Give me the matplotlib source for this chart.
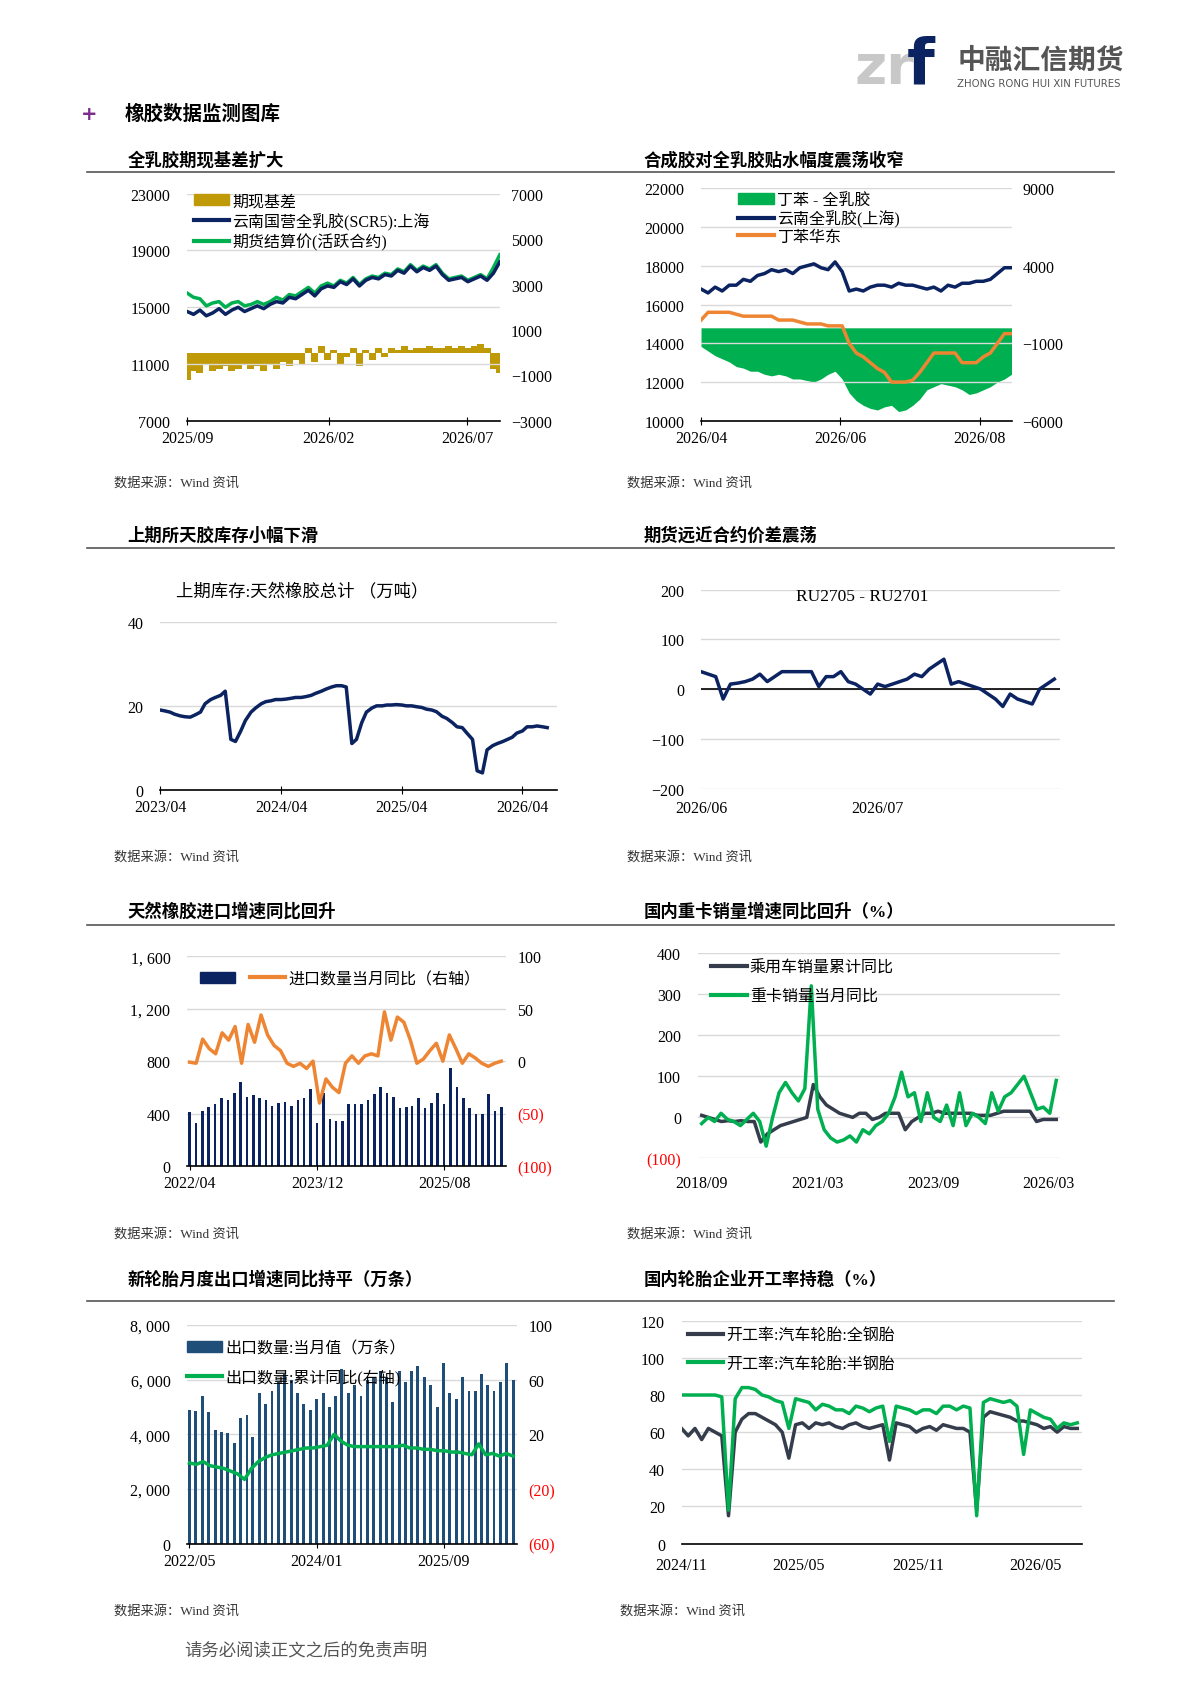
import numpy as np
import pandas as pd
import matplotlib.pyplot as plt
import matplotlib.dates as mdates
from matplotlib.patches import Patch
from matplotlib.lines import Line2D
from matplotlib.ticker import FuncFormatter

plt.rcParams['font.family'] = ['Liberation Serif', 'Noto Sans CJK SC', 'DejaVu Sans']
plt.rcParams['font.size'] = 11

NAVY = '#0b2360'
GREEN = '#00b050'
ORANGE = '#ee8533'
GOLD = '#c09a06'
DARK = '#353c4c'
GRID = '#d9d9d9'

# ---- chart 1: 全乳胶期现基差
c1_scr5 = [14700, 14500, 14800, 14400, 14600, 14900, 14500, 14800, 15000, 14700, 14900, 15100, 14900, 15200, 15400,
           15300, 15700, 15600, 15900, 16200, 15800, 16300, 16500, 16400, 16800, 16600, 17000, 16500, 16900, 17100,
           17000, 17300, 17200, 17600, 17400, 17900, 17500, 17800, 17600, 17900, 17300, 16900, 17000, 17100, 16800,
           17000, 17200, 16900, 17400, 18200]
c1_fut = [16000, 15700, 15600, 15100, 15300, 15400, 15000, 15300, 15400, 15100, 15200, 15400, 15200, 15400, 15700,
          15500, 15900, 15800, 16100, 16400, 16000, 16500, 16700, 16500, 16900, 16700, 17100, 16600, 17000, 17200,
          17100, 17400, 17300, 17700, 17500, 18000, 17600, 17900, 17700, 18000, 17400, 17000, 17100, 17200, 16900,
          17100, 17300, 17000, 17800, 18700]
c1_basis = [-1200, -800, -900, -500, -800, -700, -600, -800, -700, -500, -700, -600, -800, -500, -700,
            -400, -600, -300, -500, 200, -400, 300, -300, 100, -500, -200, 200, -600, 100, -300,
            200, -200, 200, 100, 300, 100, 200, 200, 300, 200, 200, 300, 200, 300, 200,
            300, 400, 200, -700, -900]

# ---- chart 2: 合成胶对全乳胶
c2_scr = [16800, 16600, 16900, 16700, 17000, 17000, 17300, 17200, 17500, 17600, 17800, 17700, 17800, 17600, 17900,
          18000, 18100, 17900, 17800, 18200, 17700, 16700, 16800, 16700, 16900, 17000, 17000, 16900, 17100, 17000,
          17000, 16900, 16800, 16900, 16700, 17000, 16900, 17100, 17100, 17200, 17200, 17300, 17600, 17900, 17900]
c2_sbr = [15200, 15600, 15600, 15600, 15600, 15500, 15400, 15400, 15400, 15400, 15400, 15200, 15200, 15200, 15100,
          15000, 15000, 15000, 14900, 14900, 14900, 14000, 13500, 13300, 13000, 12700, 12500, 12000, 12000, 12000,
          12100, 12500, 13000, 13500, 13500, 13500, 13500, 13000, 13000, 13000, 13300, 13500, 14000, 14500, 14500]
c2_spread = [-1200, -1500, -1800, -2000, -2200, -2500, -2600, -2800, -2800, -3000, -3100, -3000, -3100, -3300, -3300,
             -3400, -3500, -3300, -3000, -2800, -3300, -4200, -4700, -5000, -5200, -5300, -5100, -5000, -5400, -5300,
             -5000, -4600, -4000, -3800, -3600, -3700, -3800, -4000, -4300, -4200, -4000, -3800, -3500, -3300, -3000]

# ---- chart 3: 上期库存 (semi-monthly)
c3_stock = [19, 18.8, 18.5, 18, 17.6, 17.4, 17.3, 17.8, 18.5, 20.5, 21.5, 22, 22.5, 23.5, 12, 11.5, 14, 16.5,
            18.5, 19.5, 20.5, 21, 21.2, 21.5, 21.5, 21.6, 21.8, 22, 22, 22.2, 22.5, 23, 23.5, 24, 24.5, 24.8,
            24.8, 24.5, 11, 12, 16, 18.5, 19.5, 20, 20, 20.2, 20.2, 20.3, 20.2, 20, 20, 19.8, 19.6, 19.2,
            19, 18.6, 17.5, 17, 16, 15, 14.8, 13.5, 12, 4.5, 4, 9.5, 10.5, 11, 11.5, 12, 12.5, 13.5,
            14, 15, 15, 15.2, 15, 14.8]

# ---- chart 4: RU2705 - RU2701
c4_spread = [35, 30, 25, -20, 10, 12, 15, 20, 30, 15, 25, 35, 35, 35, 35, 35, 5, 25, 25, 35, 15, 10,
             0, -10, 10, 5, 10, 15, 20, 30, 25, 40, 50, 60, 10, 15, 10, 5, 0, -10, -20, -35, -10, -20,
             -25, -30, 0, 10, 20]

# ---- chart 5: 天然橡胶进口
c5_qty = [410, 330, 420, 450, 470, 520, 500, 560, 640, 530, 540, 520, 500, 460, 480, 490, 460, 500, 520, 590,
          330, 560, 360, 340, 340, 470, 470, 470, 500, 550, 600, 560, 530, 440, 450, 460, 520, 440, 480, 560,
          470, 750, 600, 520, 440, 400, 400, 550, 420, 450]
c5_yoy = [-1, -2, 21, 12, 7, 27, 20, 33, -2, 35, 18, 44, 25, 15, 10, -2, -5, -2, -7, 0, -40, -17, -25, -30, -2,
          5, -2, 5, 7, 5, 47, 20, 42, 37, 20, -2, 2, 10, 17, 0, 25, 12, -2, 7, 3, -2, -5, -2, 0]

# ---- chart 6: 重卡 / 乘用车
c6_truck = [-15, 0, -10, 10, -5, -10, -20, -5, 10, -10, -70, 0, 60, 85, 60, 40, 70, 320, 20, -30, -50, -60, -55, -45,
            -60, -30, -40, -20, -10, 10, 50, 110, 50, 60, -10, 60, 0, -10, 30, -20, 60, -20, 10, 0, -15, 60, 15,
            50, 60, 80, 100, 60, 20, 25, 10, 90]
c6_car = [5, 0, -5, -10, -8, -10, -8, -10, -10, -60, -40, -30, -20, -15, -10, -5, 0, 80, 50, 30, 20, 10, 5, 0,
          10, 10, -5, 0, 10, 10, 10, -30, -10, 0, 10, 10, 15, 10, 10, 10, 10, 10, 5, 5, 5, 10, 15, 15, 15,
          15, 15, -10, -5, -5, -5]

# ---- chart 7: 新轮胎出口
c7_qty = [4900, 4850, 5400, 4800, 4150, 4100, 4050, 3700, 4600, 4700, 3900, 5500, 5100, 5600, 5900, 6200, 6000,
          5500, 5100, 4900, 5300, 5500, 5000, 5400, 6400, 5500, 5800, 5400, 6000, 6100, 6300, 6100, 5200, 6300,
          5900, 6300, 6500, 6100, 5800, 5000, 6600, 5500, 5300, 6100, 5600, 5600, 6200, 5800, 5600, 5900, 6600, 6000]
c7_yoy = [-1, -2, 0, -3, -4, -5, -7, -9, -13, -5, 0, 3, 5, 6, 7, 8, 9, 10, 10, 11, 12, 20, 15, 12, 11, 11, 11,
          11, 11, 11, 11, 12, 10, 10, 9, 9, 8, 8, 7, 7, 6, 5, 13, 5, 6, 4, 6, 4]

# ---- chart 8: 开工率
c8_full = [62, 58, 62, 56, 62, 60, 58, 15, 60, 67, 70, 70, 68, 66, 64, 60, 46, 64, 65, 62, 65, 64, 65, 63, 62,
           64, 65, 63, 62, 63, 64, 45, 65, 64, 63, 60, 62, 63, 61, 64, 63, 62, 62, 60, 18, 68, 71, 70, 69, 68,
           66, 66, 65, 64, 62, 63, 60, 63, 62, 62]
c8_semi = [80, 80, 80, 80, 80, 80, 79, 18, 78, 84, 84, 83, 80, 79, 77, 76, 62, 78, 77, 76, 72, 75, 74, 72, 72,
           70, 74, 73, 71, 73, 74, 55, 74, 73, 72, 70, 72, 72, 70, 74, 74, 72, 74, 73, 15, 76, 78, 77, 76, 77,
           74, 48, 72, 70, 68, 67, 62, 65, 64, 65]

W, H = 1100.0, 1556.0
fig = plt.figure(figsize=(11.9, 16.83), dpi=100)


def box(x0, y0, x1, y1):
    return [x0 / W, 1 - y1 / H, (x1 - x0) / W, (y1 - y0) / H]


def ftext(x, y, s, **kw):
    fig.text(x / W, 1 - y / H, s, **kw)


def dates(start, end, n):
    return pd.date_range(start, end, periods=n)


def style(ax, yticks, fmt=None):
    for s in ['top', 'right', 'left']:
        ax.spines[s].set_visible(False)
    ax.spines['bottom'].set_color('black')
    ax.spines['bottom'].set_linewidth(1.2)
    ax.set_yticks(yticks)
    ax.set_ylim(yticks[0], yticks[-1])
    ax.yaxis.grid(True, color=GRID, lw=1)
    ax.set_axisbelow(True)
    ax.tick_params(axis='y', length=0, labelsize=11.5, pad=12)
    ax.tick_params(axis='x', direction='inout', length=6, labelsize=11.5)
    if fmt:
        ax.yaxis.set_major_formatter(FuncFormatter(fmt))


def right(ax, ticks, fmt=None, red=False):
    r = ax.twinx()
    for s in ['top', 'right', 'left', 'bottom']:
        r.spines[s].set_visible(False)
    r.set_yticks(ticks)
    r.set_ylim(ticks[0], ticks[-1])
    r.tick_params(axis='y', length=0, labelsize=11.5, pad=8)
    if fmt:
        r.yaxis.set_major_formatter(FuncFormatter(fmt))
    if red:
        for t, v in zip(r.get_yticklabels(), ticks):
            if v < 0:
                t.set_color('red')
    return r


paren = lambda v, p: f'({abs(v):,.0f})' if v < 0 else f'{v:,.0f}'
comma = lambda v, p: f'{v:,.0f}'.replace(',', ', ')

# header
ftext(790, 78, 'zr', fontsize=40, color='#c8c8c8', fontweight='bold', family='DejaVu Sans')
ftext(838, 78, 'f', fontsize=46, color=NAVY, fontweight='bold', family='DejaVu Sans')
ftext(885, 64, '中融汇信期货', fontsize=20, color='#555555', fontweight='bold', family=['Noto Sans CJK SC'])
ftext(885, 80, 'ZHONG RONG HUI XIN FUTURES', fontsize=7.3, color='#555555', family='DejaVu Sans')
ftext(75, 111, '+', fontsize=14, color='#7b2d8b', fontweight='bold', family='DejaVu Sans')
ftext(115, 111, '橡胶数据监测图库', fontsize=14, fontweight='bold')

titles = [(118, 153, '全乳胶期现基差扩大'), (595, 153, '合成胶对全乳胶贴水幅度震荡收窄'),
          (118, 500, '上期所天胶库存小幅下滑'), (595, 500, '期货远近合约价差震荡'),
          (118, 847, '天然橡胶进口增速同比回升'), (595, 847, '国内重卡销量增速同比回升（%）'),
          (118, 1188, '新轮胎月度出口增速同比持平（万条）'), (595, 1188, '国内轮胎企业开工率持稳（%）')]
for x, y, s in titles:
    ftext(x, y, s, fontsize=12.5, fontweight='bold')
for y in [160, 508, 856, 1204]:
    fig.add_artist(Line2D([80 / W, 1030 / W], [1 - y / H] * 2, color='#555555', lw=1.2))
for y in [450, 796, 1144]:
    ftext(105, y, '数据来源：Wind 资讯', fontsize=9.5, color='#333333')
    ftext(580, y, '数据来源：Wind 资讯', fontsize=9.5, color='#333333')
ftext(105, 1493, '数据来源：Wind 资讯', fontsize=9.5, color='#333333')
ftext(573, 1493, '数据来源：Wind 资讯', fontsize=9.5, color='#333333')
ftext(170, 1530, '请务必阅读正文之后的免责声明', fontsize=12.5, color='#555555')

# chart 1
ax = fig.add_axes(box(173, 180, 462, 390))
style(ax, [7000, 11000, 15000, 19000, 23000])
d = dates('2025-09-01', '2026-08-05', len(c1_scr5))
r = right(ax, [-3000, -1000, 1000, 3000, 5000, 7000])
r.bar(dates('2025-09-01', '2026-08-05', len(c1_basis)), c1_basis, width=7.5, color=GOLD)
ax.set_zorder(r.get_zorder() + 1)
ax.patch.set_visible(False)
ax.plot(dates('2025-09-01', '2026-08-05', len(c1_fut)), c1_fut, color=GREEN, lw=2.5)
ax.plot(d, c1_scr5, color=NAVY, lw=2.5)
ax.set_xlim(pd.Timestamp('2025-09-01'), pd.Timestamp('2026-08-05'))
ax.set_xticks(pd.to_datetime(['2025-09-01', '2026-02-01', '2026-07-01']))
ax.xaxis.set_major_formatter(mdates.DateFormatter('%Y/%m'))
ax.legend(handles=[Patch(color=GOLD, label='期现基差'), Line2D([], [], color=NAVY, lw=3, label='云南国营全乳胶(SCR5):上海'),
                   Line2D([], [], color=GREEN, lw=3, label='期货结算价(活跃合约)')],
          loc='upper left', bbox_to_anchor=(0.0, 1.03), frameon=False, fontsize=11.5, handlelength=2.2,
          handletextpad=0.2, labelspacing=0.2, borderaxespad=0)

# chart 2
ax = fig.add_axes(box(648, 175, 935, 390))
style(ax, [10000, 12000, 14000, 16000, 18000, 20000, 22000])
r = right(ax, [-6000, -1000, 4000, 9000])
ds = dates('2026-04-01', '2026-08-15', len(c2_spread))
r.fill_between(ds, c2_spread, 0, color=GREEN, lw=0)
ax.set_zorder(r.get_zorder() + 1)
ax.patch.set_visible(False)
ax.plot(dates('2026-04-01', '2026-08-15', len(c2_scr)), c2_scr, color=NAVY, lw=2.5)
ax.plot(dates('2026-04-01', '2026-08-15', len(c2_sbr)), c2_sbr, color=ORANGE, lw=2.5)
ax.set_xlim(pd.Timestamp('2026-04-01'), pd.Timestamp('2026-08-15'))
ax.set_xticks(pd.to_datetime(['2026-04-01', '2026-06-01', '2026-08-01']))
ax.xaxis.set_major_formatter(mdates.DateFormatter('%Y/%m'))
ax.legend(handles=[Patch(color=GREEN, label='丁苯 - 全乳胶'), Line2D([], [], color=NAVY, lw=3, label='云南全乳胶(上海)'),
                   Line2D([], [], color=ORANGE, lw=3, label='丁苯华东')],
          loc='upper left', bbox_to_anchor=(0.1, 1.01), frameon=False, fontsize=11.5, handlelength=2.2,
          handletextpad=0.2, labelspacing=0.1, borderaxespad=0)

# chart 3
ax = fig.add_axes(box(148, 576, 515, 731))
style(ax, [0, 20, 40])
ax.plot(pd.date_range('2023-04-01', periods=len(c3_stock), freq='SMS'), c3_stock, color=NAVY, lw=2.5)
ax.set_xlim(pd.Timestamp('2023-04-01'), pd.Timestamp('2026-07-15'))
ax.set_xticks(pd.to_datetime(['2023-04-01', '2024-04-01', '2025-04-01', '2026-04-01']))
ax.xaxis.set_major_formatter(mdates.DateFormatter('%Y/%m'))
ftext(163, 552, '上期库存:天然橡胶总计 （万吨）', fontsize=12.5)

# chart 4
ax = fig.add_axes(box(648, 546, 980, 730))
style(ax, [-200, -100, 0, 100, 200])
ax.spines['bottom'].set_visible(False)
ax.axhline(0, color='black', lw=1.2)
ax.plot(dates('2026-06-01', '2026-07-31', len(c4_spread)), c4_spread, color=NAVY, lw=2.5)
ax.set_xlim(pd.Timestamp('2026-06-01'), pd.Timestamp('2026-08-01'))
ax.set_xticks(pd.to_datetime(['2026-06-01', '2026-07-01']))
ax.xaxis.set_major_formatter(mdates.DateFormatter('%Y/%m'))
ax.tick_params(axis='x', length=0, pad=8)
ax.text(0.45, 0.97, 'RU2705 - RU2701', transform=ax.transAxes, ha='center', va='center', fontsize=12.5)

# chart 5
ax = fig.add_axes(box(173, 885, 468, 1079))
style(ax, [0, 400, 800, 1200, 1600], comma)
ax.bar(pd.date_range('2022-04-01', periods=len(c5_qty), freq='MS'), c5_qty, width=12, color=NAVY)
r = right(ax, [-100, -50, 0, 50, 100], paren, red=True)
r.plot(dates('2022-04-01', '2026-05-01', len(c5_yoy)), c5_yoy, color=ORANGE, lw=2.5)
ax.set_xlim(pd.Timestamp('2022-03-20'), pd.Timestamp('2026-05-25'))
ax.set_xticks(pd.to_datetime(['2022-04-01', '2023-12-01', '2025-08-01']))
ax.xaxis.set_major_formatter(mdates.DateFormatter('%Y/%m'))
ax.legend(handles=[Patch(color=NAVY, label=' '), Line2D([], [], color=ORANGE, lw=3, label='进口数量当月同比（右轴）')],
          ncol=2, loc='upper left', bbox_to_anchor=(0.02, 0.96), frameon=False, fontsize=11.5,
          handlelength=2.2, handletextpad=0.2, columnspacing=0.5, borderaxespad=0)

# chart 6
ax = fig.add_axes(box(645, 882, 980, 1072))
style(ax, [-100, 0, 100, 200, 300, 400], paren)
ax.get_yticklabels()[0].set_color('red')
ax.spines['bottom'].set_visible(False)
ax.plot(dates('2018-09-01', '2026-05-01', len(c6_car)), c6_car, color=DARK, lw=2.5)
ax.plot(dates('2018-09-01', '2026-05-01', len(c6_truck)), c6_truck, color=GREEN, lw=2.5)
ax.set_xlim(pd.Timestamp('2018-08-01'), pd.Timestamp('2026-06-01'))
ax.set_xticks(pd.to_datetime(['2018-09-01', '2021-03-01', '2023-09-01', '2026-03-01']))
ax.xaxis.set_major_formatter(mdates.DateFormatter('%Y/%m'))
ax.tick_params(axis='x', length=0, pad=12)
ax.legend(handles=[Line2D([], [], color=DARK, lw=3, label='乘用车销量累计同比'), Line2D([], [], color=GREEN, lw=3, label='重卡销量当月同比')],
          loc='upper left', bbox_to_anchor=(0.02, 1.0), frameon=False, fontsize=11.5,
          handlelength=2.2, handletextpad=0.2, labelspacing=0.8, borderaxespad=0)

# chart 7
ax = fig.add_axes(box(173, 1226, 478, 1428))
style(ax, [0, 2000, 4000, 6000, 8000], comma)
ax.bar(pd.date_range('2022-05-01', periods=len(c7_qty), freq='MS'), c7_qty, width=14, color='#1f4e79')
r = right(ax, [-60, -20, 20, 60, 100], paren, red=True)
r.plot(dates('2022-05-01', '2026-08-01', len(c7_yoy)), c7_yoy, color=GREEN, lw=2.5)
ax.set_xlim(pd.Timestamp('2022-04-20'), pd.Timestamp('2026-08-20'))
ax.set_xticks(pd.to_datetime(['2022-05-01', '2024-01-01', '2025-09-01']))
ax.xaxis.set_major_formatter(mdates.DateFormatter('%Y/%m'))
ax.legend(handles=[Patch(color='#1f4e79', label='出口数量:当月值（万条）'), Line2D([], [], color=GREEN, lw=3, label='出口数量:累计同比(右轴)')],
          loc='upper left', bbox_to_anchor=(-0.02, 0.96), frameon=False, fontsize=11.5,
          handlelength=2.2, handletextpad=0.2, labelspacing=0.8, borderaxespad=0)

# chart 8
ax = fig.add_axes(box(630, 1222, 1000, 1428))
style(ax, [0, 20, 40, 60, 80, 100, 120])
ax.plot(dates('2024-11-01', '2026-07-05', len(c8_full)), c8_full, color=DARK, lw=2.5)
ax.plot(dates('2024-11-01', '2026-07-05', len(c8_semi)), c8_semi, color=GREEN, lw=2.5)
ax.set_xlim(pd.Timestamp('2024-11-01'), pd.Timestamp('2026-07-12'))
ax.set_xticks(pd.to_datetime(['2024-11-01', '2025-05-01', '2025-11-01', '2026-05-01']))
ax.xaxis.set_major_formatter(mdates.DateFormatter('%Y/%m'))
ax.tick_params(axis='x', length=0, pad=10)
ax.legend(handles=[Line2D([], [], color=DARK, lw=3, label='开工率:汽车轮胎:全钢胎'), Line2D([], [], color=GREEN, lw=3, label='开工率:汽车轮胎:半钢胎')],
          loc='upper left', bbox_to_anchor=(0.0, 1.0), frameon=False, fontsize=11.5,
          handlelength=2.2, handletextpad=0.2, labelspacing=0.8, borderaxespad=0)

fig.savefig('out.png', dpi=100)
